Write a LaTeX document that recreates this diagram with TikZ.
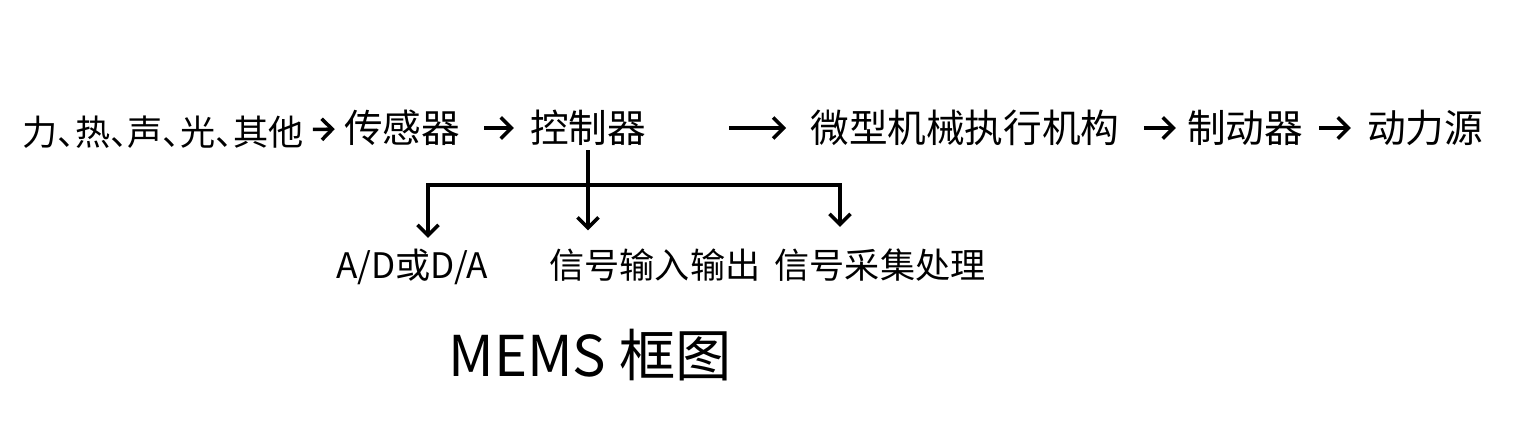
\documentclass[tikz,border=0pt]{standalone}
\usepackage{fontspec}
\setmainfont{Noto Sans CJK SC}
\usetikzlibrary{positioning, arrows.meta}

\newcommand{\dunhao}{、\kern-.5em}

\begin{document}
\begin{tikzpicture}[>={Straight Barb[length=3pt, width=6pt]},
      label/.style={inner sep=1pt, font=\fontsize{11}{13}\selectfont},
      sublabel/.style={inner sep=1pt, font=\fontsize{10}{12}\selectfont},
      flow/.style={->, line width=1pt}]
    \useasboundingbox (0,0) rectangle (15.17,4.36);

    % top chain
    \node[label, font=\fontsize{10}{12}\selectfont] (src) at (1.63,3.04) {力\dunhao 热\dunhao 声\dunhao 光\dunhao 其他};
    \node[label] (sensor) at (4.02,3.08) {传感器};
    \node[label] (ctrl) at (5.88,3.08) {控制器};
    \node[label] (mech) at (9.65,3.08) {微型机械执行机构};
    \node[label] (brake) at (12.45,3.08) {制动器};
    \node[label] (power) at (14.25,3.08) {动力源};

    \draw[flow, shorten <=0.05cm, shorten >=0.05cm] (src) -- (sensor);
    \draw[flow, shorten <=0.2cm, shorten >=0.12cm] (sensor) -- (ctrl);
    \draw[flow, shorten <=0.79cm, shorten >=0.2cm] (ctrl) -- (mech);
    \draw[flow, shorten <=0.2cm, shorten >=0.07cm] (mech) -- (brake);
    \draw[flow, shorten <=0.12cm, shorten >=0.12cm] (brake) -- (power);

    % controller branches
    \node[sublabel] (ad) at (4.12,1.69) {A/D或D/A};
    \node[sublabel] (io) at (6.55,1.71) {信号输入输出};
    \node[sublabel] (acq) at (8.80,1.71) {信号采集处理};
    \coordinate[below=0.35cm of ctrl.south] (bus);

    \draw[->, line width=1pt] (ctrl.south) -- ([yshift=4pt]ctrl.south |- io.north);
    \draw[->, line width=1pt, shorten >=2pt] (bus) -| ([xshift=0.16cm]ad.north);
    \draw[->, line width=1pt, shorten >=5pt] (bus) -| ([xshift=-0.40cm]acq.north);

    \node[font=\fontsize{16}{19}\selectfont] (title) at (5.90,0.81) {MEMS 框图};
\end{tikzpicture}
\end{document}
